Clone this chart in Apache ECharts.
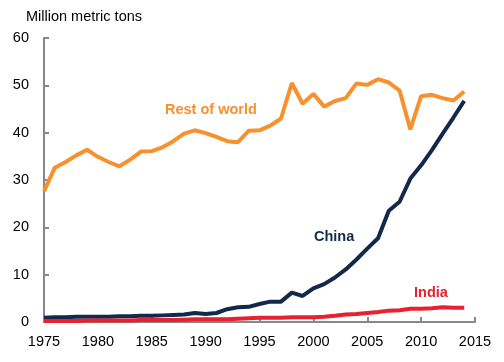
<!DOCTYPE html>
<html>
<head>
<meta charset="utf-8">
<script src="https://cdn.jsdelivr.net/npm/echarts@6/dist/echarts.min.js"></script>
<style>html,body{margin:0;padding:0;background:#fff}#c{width:504px;height:362px}</style>
</head>
<body>
<div id="c"></div>
<script>
const years = [];
for (let y = 1975; y <= 2014; y++) years.push(y);
const restOfWorld = [27.6,32.6,33.8,35.2,36.4,34.9,33.8,32.9,34.3,36.0,36.1,36.9,38.2,39.8,40.5,39.9,39.1,38.2,38.0,40.4,40.5,41.5,43.0,50.5,46.1,48.2,45.5,46.7,47.3,50.4,50.1,51.3,50.6,48.9,40.7,47.7,48.0,47.3,46.8,48.7];
const china = [0.9,1.0,1.0,1.1,1.1,1.1,1.1,1.2,1.2,1.3,1.3,1.4,1.5,1.6,1.9,1.7,1.9,2.7,3.1,3.2,3.8,4.3,4.3,6.2,5.5,7.1,8.0,9.4,11.1,13.2,15.5,17.7,23.5,25.4,30.3,33.1,36.3,39.8,43.2,46.7];
const india = [0.2,0.2,0.2,0.2,0.3,0.3,0.3,0.3,0.3,0.4,0.4,0.4,0.4,0.5,0.6,0.6,0.6,0.6,0.7,0.8,0.9,0.9,0.9,1.0,1.0,1.0,1.1,1.3,1.6,1.7,1.9,2.1,2.4,2.5,2.8,2.8,2.9,3.1,3.0,3.0];
const unitTitle = 'Million metric tons';
const seriesNames = ['Rest of world', 'China', 'India'];
const colors = ['#F7902D', '#13294B', '#E8202F'];

const pair = arr => years.map((y, i) => [y, arr[i]]);
const chart = echarts.init(document.getElementById('c'));
const font = 'Liberation Sans, Arial, sans-serif';
chart.setOption({
  animation: false,
  grid: {left: 44, right: 29, top: 38, bottom: 40},
  xAxis: {
    type: 'value', min: 1975, max: 2015, interval: 5,
    axisLine: {lineStyle: {color: '#888', width: 2}},
    axisTick: {show: true, inside: true, length: 5, lineStyle: {color: '#888', width: 2}},
    axisLabel: {color: '#000', fontSize: 14.5, fontFamily: font, margin: 12, formatter: v => String(v)},
    splitLine: {show: false}
  },
  yAxis: {
    type: 'value', min: 0, max: 60, interval: 10,
    axisLine: {show: true, lineStyle: {color: '#888', width: 2}},
    axisTick: {show: true, inside: true, length: 5, lineStyle: {color: '#888', width: 2}},
    axisLabel: {color: '#000', fontSize: 14.5, fontFamily: font, margin: 15},
    splitLine: {show: false}
  },
  graphic: [
    {type: 'text', left: 26, top: 9, style: {text: unitTitle, fill: '#000', font: '14.5px ' + font}},
    {type: 'text', left: 165, top: 102, style: {text: seriesNames[0], fill: colors[0], font: 'bold 14.5px ' + font}},
    {type: 'text', left: 314, top: 229, style: {text: seriesNames[1], fill: colors[1], font: 'bold 14.5px ' + font}},
    {type: 'text', left: 414, top: 285, style: {text: seriesNames[2], fill: colors[2], font: 'bold 14.5px ' + font}}
  ],
  series: [
    {name: seriesNames[0], type: 'line', data: pair(restOfWorld), showSymbol: false, lineStyle: {color: colors[0], width: 4}, itemStyle: {color: colors[0]}},
    {name: seriesNames[1], type: 'line', data: pair(china), showSymbol: false, lineStyle: {color: colors[1], width: 4}, itemStyle: {color: colors[1]}},
    {name: seriesNames[2], type: 'line', data: pair(india), showSymbol: false, lineStyle: {color: colors[2], width: 4}, itemStyle: {color: colors[2]}}
  ]
});
</script>
</body>
</html>
